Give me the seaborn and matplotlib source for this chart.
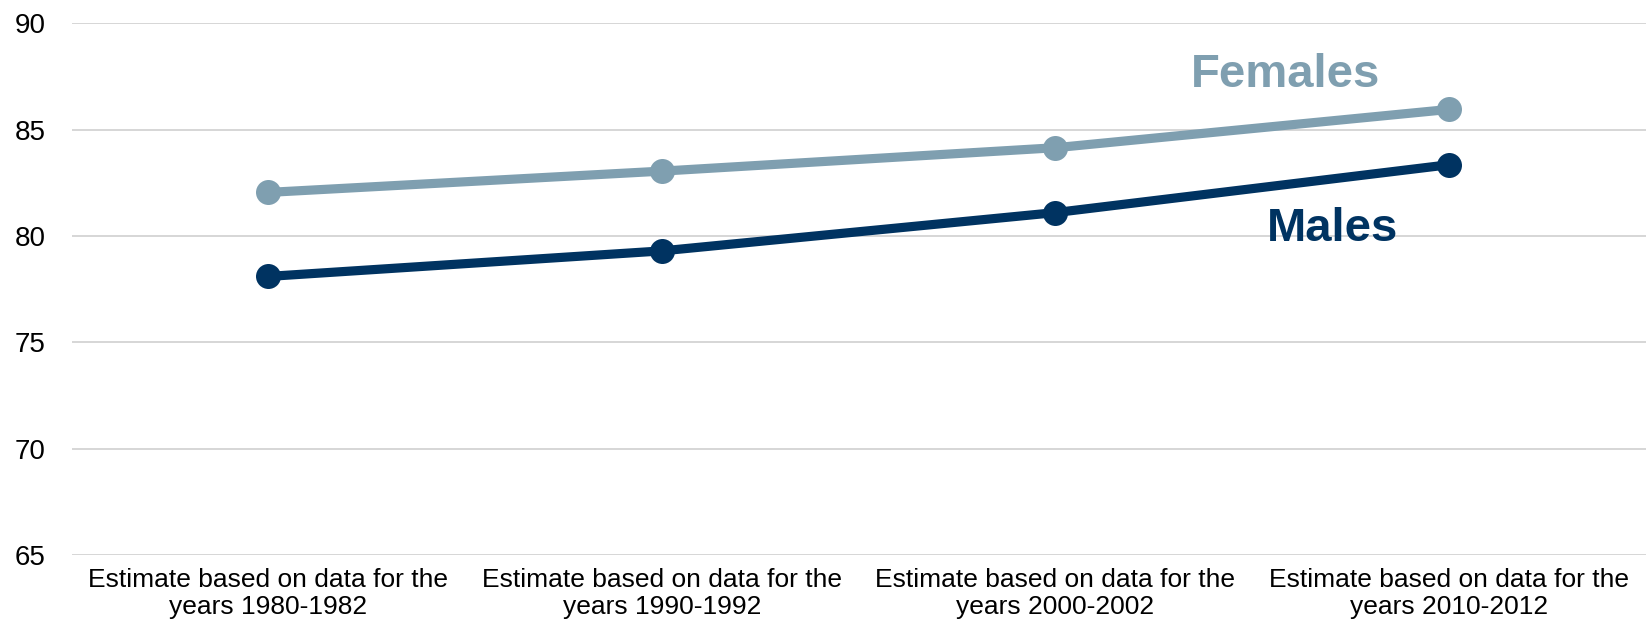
import matplotlib
matplotlib.use("Agg")
import matplotlib.pyplot as plt
import numpy as np
import pandas as pd
import seaborn as sns

periods = [
    "Estimate based on data for the\nyears 1980-1982",
    "Estimate based on data for the\nyears 1990-1992",
    "Estimate based on data for the\nyears 2000-2002",
    "Estimate based on data for the\nyears 2010-2012",
]
females = [82.05, 83.05, 84.15, 85.95]
males = [78.1, 79.3, 81.1, 83.35]
y_ticks = [65, 70, 75, 80, 85, 90]

female_color = "#7f9fb0"
male_color = "#003361"

df = pd.DataFrame({
    "period": periods * 2,
    "value": females + males,
    "sex": ["Females"] * len(periods) + ["Males"] * len(periods),
})

sns.set_style("white")
plt.rcParams["font.family"] = ["Liberation Sans", "DejaVu Sans"]

fig = plt.figure(figsize=(16.48, 6.3), dpi=100)
ax = fig.add_axes([0.0435, 0.119, 0.955, 0.844])

sns.lineplot(data=df, x="period", y="value", hue="sex",
    palette={"Females": female_color, "Males": male_color},
    linewidth=6.6, marker="o", markersize=18, markeredgewidth=0,
    legend=False, ax=ax, sort=False)

ax.set_ylim(65, 90)
ax.set_xlim(-0.5, len(periods) - 0.5)
ax.set_yticks(y_ticks)
ax.yaxis.grid(True, color="#d0d0d0", linewidth=1.2)
ax.set_axisbelow(True)
for s in ax.spines.values():
    s.set_visible(False)
ax.tick_params(axis="both", length=0, colors="black")
ax.tick_params(axis="y", labelsize=20, pad=19)
ax.tick_params(axis="x", labelsize=19, pad=9)
ax.set_xlabel("")
ax.set_ylabel("")

ax.text(2.585, 87.55, "Females", color=female_color, fontsize=34,
    fontweight="bold", ha="center", va="center")
ax.text(2.705, 80.35, "Males", color=male_color, fontsize=34,
    fontweight="bold", ha="center", va="center")

fig.savefig("out.png", dpi=100)
